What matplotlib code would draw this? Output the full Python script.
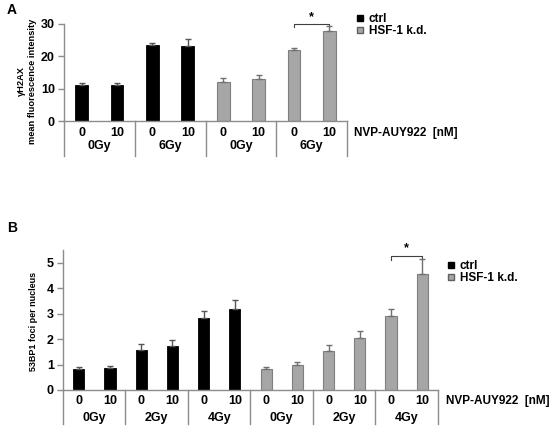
import matplotlib.pyplot as plt
from matplotlib.lines import Line2D

plt.rcParams['font.family'] = ['Liberation Sans', 'DejaVu Sans']
plt.rcParams['font.weight'] = 'bold'

# panel A - gammaH2AX
a_dose = ['0', '10', '0', '10', '0', '10', '0', '10']
a_groups = ['0Gy', '6Gy', '0Gy', '6Gy']
a_ctrl = [11.2, 11.0, 23.5, 23.1]
a_ctrl_err = [0.4, 0.7, 0.7, 2.2]
a_hsf = [12.0, 13.0, 22.0, 27.8]
a_hsf_err = [1.2, 1.1, 0.7, 1.5]

# panel B - 53BP1 foci
b_dose = ['0', '10'] * 6
b_groups = ['0Gy', '2Gy', '4Gy', '0Gy', '2Gy', '4Gy']
b_ctrl = [0.84, 0.88, 1.59, 1.74, 2.83, 3.17]
b_ctrl_err = [0.07, 0.05, 0.23, 0.24, 0.28, 0.35]
b_hsf = [0.83, 0.97, 1.52, 2.03, 2.9, 4.55]
b_hsf_err = [0.08, 0.12, 0.26, 0.29, 0.29, 0.58]

BLACK = '#000000'
GRAY = '#a6a6a6'
EDGE = '#7f7f7f'
AX = '#8c8c8c'
FS = 9


def panel(ax, ctrl, ctrl_err, hsf, hsf_err, doses, groups, ymax, yticks,
          lab_off, grp_off, sep_off, star_pair):
    n = len(ctrl)
    xc = list(range(n))
    xh = list(range(n, 2 * n))
    w = 0.36
    ax.bar(xc, ctrl, w, color=BLACK, edgecolor=BLACK, linewidth=0.6, zorder=2)
    ax.bar(xh, hsf, w, color=GRAY, edgecolor=EDGE, linewidth=0.8, zorder=2)
    ax.errorbar(xc, ctrl, yerr=[[0] * n, ctrl_err], fmt='none', ecolor='#555555',
                elinewidth=1, capsize=2.5, capthick=1, zorder=3)
    ax.errorbar(xh, hsf, yerr=[[0] * n, hsf_err], fmt='none', ecolor='#707070',
                elinewidth=1, capsize=2.5, capthick=1, zorder=3)
    ax.set_xlim(-0.5, 2 * n - 0.5)
    ax.set_ylim(0, ymax)
    ax.set_yticks(yticks)
    ax.set_xticks([])
    for s in ['top', 'right']:
        ax.spines[s].set_visible(False)
    for s in ['left', 'bottom']:
        ax.spines[s].set_color(AX)
        ax.spines[s].set_linewidth(1.0)
    ax.tick_params(axis='y', length=4, width=1, color=AX, labelsize=FS, pad=2.5)
    for lbl in ax.get_yticklabels():
        lbl.set_fontweight('bold')

    for i, d in enumerate(doses):
        ax.annotate(d, (i, 0), xycoords=('data', 'axes fraction'),
                    xytext=(0, -lab_off), textcoords='offset pixels',
                    ha='center', va='center', fontsize=FS, fontweight='bold')
    for k, g in enumerate(groups):
        ax.annotate(g, (2 * k + 0.5, 0), xycoords=('data', 'axes fraction'),
                    xytext=(0, -grp_off), textcoords='offset pixels',
                    ha='center', va='center', fontsize=FS, fontweight='bold')
    h = ax.get_window_extent().height
    tr = ax.get_xaxis_transform()
    for k in range(len(groups) + 1):
        xb = 2 * k - 0.5
        ax.plot([xb, xb], [0, -sep_off / h], color=AX, lw=1.0,
                transform=tr, clip_on=False)

    # significance bracket
    i0, i1 = star_pair
    top = max(hsf[i0 - n] + hsf_err[i0 - n], hsf[i1 - n] + hsf_err[i1 - n])
    yb = top + ymax * 0.025
    tick = ymax * 0.03
    ax.plot([i0, i0, i1, i1], [yb - tick, yb, yb, yb - tick], color='#404040',
            lw=0.8, clip_on=False)
    ax.text((i0 + i1) / 2, yb + ymax * 0.01, '*', ha='center', va='bottom',
            fontsize=9, fontweight='bold')


fig = plt.figure(figsize=(5.5, 4.29), dpi=100)

axA = fig.add_axes([64 / 550, 308 / 429, 283 / 550, 97 / 429])
panel(axA, a_ctrl, a_ctrl_err, a_hsf, a_hsf_err, a_dose, a_groups, 30,
      [0, 10, 20, 30], 12, 25, 35, (6, 7))

axB = fig.add_axes([63 / 550, 39 / 429, 375 / 550, 140 / 429])
panel(axB, b_ctrl, b_ctrl_err, b_hsf, b_hsf_err, b_dose, b_groups, 5.5,
      [0, 1, 2, 3, 4, 5], 11, 28, 34, (10, 11))

handles = [Line2D([], [], marker='s', ls='none', markersize=4.5,
                  markerfacecolor=BLACK, markeredgecolor=BLACK),
           Line2D([], [], marker='s', ls='none', markersize=4.5,
                  markerfacecolor=GRAY, markeredgecolor='#606060')]
for ax, (lx, ly) in [(axA, (351, 7)), (axB, (442, 254))]:
    ax.legend(handles, ['ctrl', 'HSF-1 k.d.'], loc='upper left',
              bbox_to_anchor=(lx / 550, 1 - ly / 429), bbox_transform=fig.transFigure,
              frameon=False, borderpad=0, handlelength=0.6, handletextpad=0.4,
              labelspacing=0.05, prop={'size': 8.5, 'weight': 'bold'})

fig.text(354 / 550, 1 - 133 / 429, 'NVP-AUY922  [nM]', ha='left', va='center',
         fontsize=8.5, fontweight='bold')
fig.text(446 / 550, 1 - 401 / 429, 'NVP-AUY922  [nM]', ha='left', va='center',
         fontsize=8.5, fontweight='bold')

fig.text(27 / 550, 1 - 81 / 429, 'γH2AX\nmean fluorescence intensity',
         rotation=90, ha='center', va='center', multialignment='center',
         fontsize=6.7, fontweight='bold', linespacing=1.3)
fig.text(33 / 550, 1 - 321 / 429, '53BP1 foci per nucleus', rotation=90,
         ha='center', va='center', fontsize=6.5, fontweight='bold')

fig.text(7 / 550, 1 - 10 / 429, 'A', ha='left', va='center', fontsize=10,
         fontweight='bold')
fig.text(7 / 550, 1 - 228 / 429, 'B', ha='left', va='center', fontsize=10,
         fontweight='bold')

fig.savefig('out.png', dpi=100)
